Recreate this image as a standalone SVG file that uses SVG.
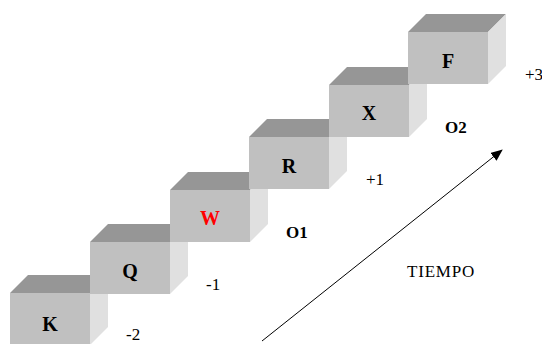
<svg xmlns="http://www.w3.org/2000/svg" width="542" height="344" viewBox="0 0 542 344">
<style>
.front{fill:#c0c0c0}
.top{fill:#969696}
.side{fill:#e0e0e0}
text{font-family:"Liberation Serif","Times New Roman",serif;fill:#000}
.lbl{font-weight:bold;font-size:20px;text-anchor:middle}
.num{font-size:17px}
.bnum{font-size:17px;font-weight:bold}
</style>
<defs>
<marker id="ah" markerWidth="12" markerHeight="10" refX="11" refY="5" orient="auto" markerUnits="userSpaceOnUse">
<path d="M0,0 L12,5 L0,10 Z" fill="#000"/>
</marker>
<g id="box">
<polygon class="top" points="0,0 18,-18 98,-18 80,0"/>
<polygon class="side" points="80,0 98,-18 98,34 80,52"/>
<rect class="front" x="0" y="0" width="80" height="52"/>
</g>
</defs>
<g id="node-K" transform="translate(10,293)">
<use href="#box"/>
<text class="lbl" x="40" y="38">K</text>
</g>
<g id="node-Q" transform="translate(90,242)">
<use href="#box"/>
<text class="lbl" x="40" y="36">Q</text>
</g>
<g id="node-W" transform="translate(170,190)">
<use href="#box"/>
<text class="lbl" x="40" y="35" style="fill:#ff0000">W</text>
</g>
<g id="node-R" transform="translate(249,137)">
<use href="#box"/>
<text class="lbl" x="40" y="36">R</text>
</g>
<g id="node-X" transform="translate(329,85)">
<use href="#box"/>
<text class="lbl" x="40" y="35">X</text>
</g>
<g id="node-F" transform="translate(408,32)">
<use href="#box"/>
<text class="lbl" x="40" y="36">F</text>
</g>
<g id="labels">
<text class="num" x="126" y="340">-2</text>
<text class="num" x="206" y="290">-1</text>
<text class="bnum" x="286" y="238">O1</text>
<text class="num" x="366" y="185">+1</text>
<text class="bnum" x="445" y="133">O2</text>
<text class="num" x="525" y="80">+3</text>
<text class="num" x="407" y="277" letter-spacing="0.8">TIEMPO</text>
</g>
<g id="connectors">
<line x1="262" y1="341" x2="502" y2="150" stroke="#000" stroke-width="1" marker-end="url(#ah)"/>
</g>
</svg>
